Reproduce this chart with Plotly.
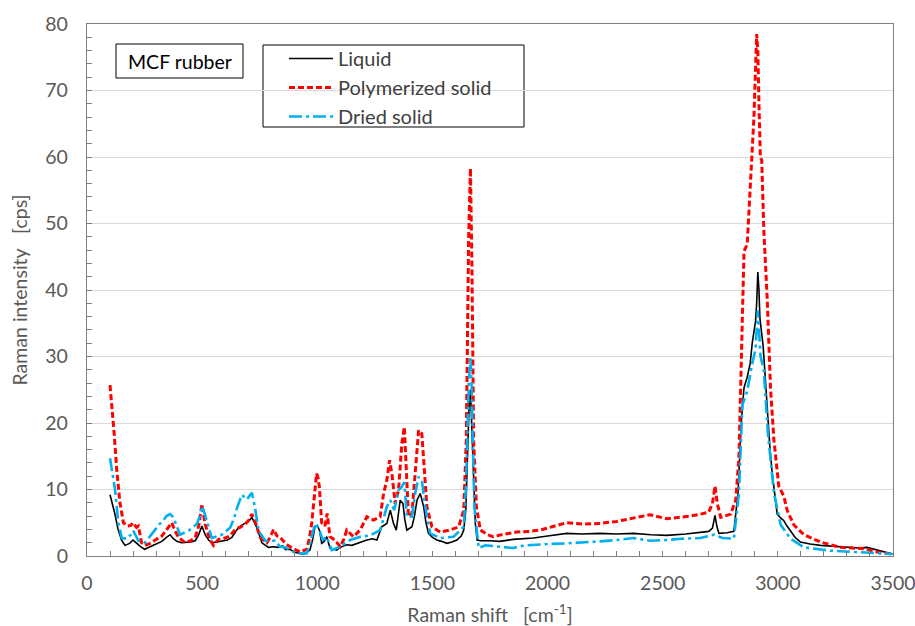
import plotly.graph_objects as go

# ---- data ----
LIQ_X = [
    100, 110, 120, 135, 150, 165, 185, 200, 215, 230,
    250, 265, 281, 300, 325, 345, 361, 375, 390, 410,
    430, 450, 470, 485, 499, 513, 528, 542, 565, 586,
    610, 629, 645, 658, 680, 701, 716, 737, 750, 759,
    775, 788, 810, 832, 850, 861, 881, 900, 925, 945,
    968, 980, 990, 1000, 1010, 1019, 1030, 1041, 1055, 1070,
    1084, 1100, 1128, 1150, 1172, 1195, 1215, 1240, 1259, 1280,
    1302, 1317, 1331, 1343, 1352, 1360, 1372, 1380, 1389, 1400,
    1411, 1422, 1433, 1447, 1462, 1472, 1483, 1500, 1519, 1540,
    1563, 1585, 1606, 1625, 1636, 1645, 1650, 1655, 1660, 1665,
    1670, 1675, 1679, 1686, 1694, 1710, 1750, 1793, 1850, 1900,
    1939, 2000, 2083, 2150, 2228, 2300, 2373, 2450, 2518, 2600,
    2663, 2700, 2716, 2727, 2735, 2744, 2780, 2809, 2827, 2841,
    2853, 2867, 2880, 2889, 2903, 2908, 2913, 2918, 2922, 2936,
    2945, 2954, 2965, 2975, 2990, 2997, 3010, 3026, 3040, 3055,
    3075, 3098, 3140, 3185, 3250, 3300, 3350, 3387, 3440, 3498]
LIQ_Y = [
    9.2, 8.0, 6.5, 4.0, 2.4, 1.6, 1.9, 2.4, 1.9, 1.5,
    1.0, 1.2, 1.5, 1.8, 2.2, 2.8, 3.2, 2.6, 2.2, 2.0,
    2.0, 2.1, 2.3, 3.2, 4.5, 3.2, 2.4, 2.0, 2.1, 2.2,
    2.4, 2.8, 3.6, 4.3, 4.8, 5.2, 5.8, 4.3, 3.0, 2.0,
    1.6, 1.3, 1.4, 1.3, 1.5, 1.0, 1.0, 0.6, 0.4, 0.3,
    0.9, 2.5, 4.4, 4.6, 3.8, 1.9, 2.2, 2.9, 1.2, 1.0,
    0.9, 1.3, 1.7, 1.6, 1.9, 2.2, 2.4, 2.6, 2.4, 4.4,
    4.9, 6.9, 4.9, 3.9, 6.0, 8.4, 7.9, 5.5, 3.9, 4.2,
    4.4, 6.0, 8.4, 9.4, 7.4, 5.0, 3.4, 2.8, 2.4, 2.2,
    1.9, 2.1, 2.4, 3.0, 3.9, 7.0, 12.4, 18.0, 23.4, 25.0,
    20.0, 14.0, 9.9, 5.0, 2.4, 2.3, 2.3, 2.2, 2.5, 2.6,
    2.7, 3.0, 3.4, 3.3, 3.4, 3.3, 3.4, 3.2, 3.1, 3.3,
    3.6, 3.7, 4.2, 6.1, 4.5, 3.4, 3.5, 3.7, 9.5, 20.0,
    25.3, 26.9, 29.0, 32.1, 35.3, 38.0, 42.7, 40.0, 35.8, 31.6,
    27.0, 21.6, 16.5, 12.6, 8.0, 6.3, 5.8, 5.3, 4.5, 3.7,
    2.8, 2.1, 1.8, 1.6, 1.4, 1.3, 1.2, 1.3, 0.8, 0.3]

POLY_X = [
    100, 107, 119, 129, 143, 158, 175, 190, 200, 215,
    223, 237, 252, 281, 300, 325, 350, 368, 382, 397,
    426, 450, 470, 485, 499, 513, 530, 549, 571, 600,
    620, 644, 665, 687, 705, 716, 730, 745, 752, 770,
    781, 795, 810, 825, 838, 846, 865, 881, 900, 925,
    954, 965, 976, 990, 997, 1003, 1009, 1019, 1033, 1043,
    1055, 1077, 1099, 1115, 1128, 1157, 1186, 1215, 1244, 1273,
    1288, 1302, 1314, 1324, 1338, 1353, 1367, 1378, 1386, 1396,
    1411, 1425, 1440, 1454, 1465, 1476, 1498, 1534, 1577, 1614,
    1636, 1647, 1652, 1657, 1665, 1668, 1672, 1676, 1679, 1691,
    1708, 1740, 1764, 1800, 1866, 1920, 1968, 2020, 2083, 2150,
    2228, 2300, 2373, 2445, 2518, 2578, 2620, 2665, 2700, 2716,
    2727, 2737, 2752, 2795, 2817, 2831, 2843, 2853, 2867, 2882,
    2896, 2908, 2913, 2918, 2924, 2930, 2939, 2954, 2968, 2983,
    3004, 3026, 3040, 3069, 3113, 3185, 3271, 3373, 3445, 3498]
POLY_Y = [
    25.7, 23.0, 18.0, 13.0, 8.0, 5.0, 4.5, 4.6, 5.0, 4.3,
    4.5, 2.0, 1.6, 2.0, 2.5, 3.0, 4.2, 5.0, 3.8, 2.8,
    2.0, 2.3, 2.8, 4.5, 7.8, 4.8, 2.8, 1.6, 2.5, 2.7,
    3.0, 4.0, 4.3, 4.8, 5.5, 6.3, 5.2, 3.5, 2.8, 2.3,
    2.0, 2.8, 4.0, 3.0, 2.9, 2.5, 1.8, 1.4, 1.0, 0.6,
    1.0, 2.5, 5.0, 9.9, 12.4, 11.8, 10.4, 5.0, 4.5, 6.4,
    2.9, 2.4, 1.4, 2.5, 3.9, 2.9, 3.9, 5.9, 5.4, 5.9,
    9.4, 11.4, 14.4, 12.4, 7.9, 9.9, 16.9, 19.4, 12.4, 5.9,
    6.4, 12.4, 18.9, 18.4, 12.4, 7.4, 4.4, 3.6, 3.9, 4.4,
    6.9, 17.4, 32.0, 47.5, 58.3, 52.0, 42.5, 28.0, 17.4, 7.4,
    3.9, 3.2, 2.9, 3.2, 3.6, 3.7, 3.9, 4.4, 5.0, 4.8,
    4.9, 5.2, 5.7, 6.2, 5.6, 5.8, 6.0, 6.3, 6.6, 7.9,
    10.5, 7.9, 5.8, 6.3, 8.4, 14.8, 33.2, 45.8, 46.9, 56.9,
    65.9, 78.5, 76.0, 68.0, 60.0, 59.5, 49.0, 38.5, 25.3, 17.4,
    10.5, 9.0, 6.9, 4.7, 3.2, 2.1, 1.3, 1.1, 0.5, 0.3]

DRY_X = [
    100, 107, 115, 122, 136, 151, 172, 190, 201, 223,
    252, 275, 295, 315, 331, 345, 361, 375, 390, 404,
    441, 477, 490, 499, 510, 520, 542, 586, 622, 640,
    651, 665, 672, 685, 694, 705, 716, 730, 745, 774,
    817, 838, 861, 910, 954, 970, 983, 994, 1009, 1024,
    1041, 1063, 1099, 1143, 1186, 1230, 1273, 1302, 1317, 1334,
    1353, 1367, 1378, 1389, 1411, 1425, 1440, 1454, 1469, 1490,
    1534, 1592, 1636, 1645, 1650, 1658, 1665, 1670, 1675, 1682,
    1701, 1730, 1793, 1850, 1900, 1939, 2000, 2083, 2150, 2228,
    2300, 2373, 2445, 2518, 2578, 2663, 2723, 2760, 2809, 2831,
    2846, 2867, 2889, 2903, 2913, 2925, 2939, 2957, 2983, 3012,
    3055, 3113, 3228, 3373, 3498]
DRY_Y = [
    14.7, 13.0, 11.0, 9.9, 5.0, 2.7, 2.6, 3.2, 3.8, 2.3,
    2.0, 3.0, 4.0, 4.8, 5.3, 6.0, 6.3, 5.8, 4.5, 3.2,
    3.8, 4.8, 6.0, 7.5, 6.5, 5.3, 2.7, 3.2, 4.3, 5.8,
    7.2, 8.5, 9.2, 8.8, 8.5, 9.0, 9.5, 7.2, 3.8, 2.3,
    2.3, 1.4, 1.3, 0.4, 0.4, 2.0, 3.9, 4.9, 3.9, 2.4,
    2.9, 0.9, 1.4, 2.4, 2.9, 3.1, 3.9, 7.4, 8.4, 6.9,
    9.9, 10.4, 11.1, 5.9, 5.9, 9.4, 11.9, 11.4, 7.4, 3.4,
    2.7, 2.9, 4.4, 10.0, 17.4, 26.0, 30.0, 26.0, 18.0, 7.4,
    1.2, 1.6, 1.4, 1.2, 1.6, 1.7, 1.8, 1.9, 2.0, 2.2,
    2.4, 2.7, 2.3, 2.4, 2.6, 2.7, 3.2, 2.7, 2.6, 9.5,
    22.7, 24.8, 29.0, 31.1, 36.9, 30.0, 27.9, 18.4, 9.5, 4.7,
    2.6, 1.3, 0.8, 0.5, 0.3]

SERIES_NAMES = ["Liquid", "Polymerized solid", "Dried solid"]
X_TICKS = [0, 500, 1000, 1500, 2000, 2500, 3000, 3500]
Y_TICKS = [0, 10, 20, 30, 40, 50, 60, 70, 80]

FONT = "Lato, 'Open Sans', sans-serif"
GREY = "#595959"
FS = 19.5

fig = go.Figure()
fig.add_trace(go.Scatter(x=LIQ_X, y=LIQ_Y, mode="lines", name=SERIES_NAMES[0],
                         line=dict(color="black", width=1.6)))
fig.add_trace(go.Scatter(x=POLY_X, y=POLY_Y, mode="lines", name=SERIES_NAMES[1],
                         line=dict(color="#FF0000", width=3, dash="6px,3px")))
fig.add_trace(go.Scatter(x=DRY_X, y=DRY_Y, mode="lines", name=SERIES_NAMES[2],
                         line=dict(color="#00B0F0", width=2.6, dash="13px,4px,3px,4px")))

# page body margin is removed below, so figure pixels == page pixels
W, H = 915, 626
L, R, T, B = 87, 893, 24, 556


def px(xp):
    return (xp - L) / (R - L)


def py(yp):
    return (B - yp) / (B - T)


fig.update_layout(
    width=W, height=H,
    margin=dict(l=L, r=W - R, t=T, b=H - B, autoexpand=False),
    paper_bgcolor="white", plot_bgcolor="white",
    font=dict(family=FONT, size=FS, color=GREY),
    showlegend=True,
    legend=dict(x=px(284), y=py(39), xanchor="left", yanchor="top",
                bgcolor="rgba(0,0,0,0)", borderwidth=0,
                font=dict(family=FONT, size=20, color="#404040"),
                itemwidth=44, tracegroupgap=0),
    shapes=[
        dict(type="rect", xref="paper", yref="paper",
             x0=px(263), x1=px(524), y0=py(127), y1=py(45),
             line=dict(color="black", width=1), fillcolor="white", layer="below"),
        dict(type="rect", xref="paper", yref="paper",
             x0=px(116), x1=px(243), y0=py(78), y1=py(44),
             line=dict(color="black", width=1), fillcolor="white", layer="below"),
    ],
    annotations=[
        dict(text="MCF rubber", xref="paper", yref="paper",
             x=px(179.5), y=py(61), xanchor="center", yanchor="middle",
             showarrow=False, font=dict(family=FONT, size=FS, color="black")),
    ],
)

fig.update_xaxes(
    range=[0, 3500], tickvals=X_TICKS, ticks="inside", ticklen=5,
    tickcolor="#808080", showgrid=False, zeroline=False, automargin=False,
    showline=True, linecolor="#808080", linewidth=1.3, mirror=True,
    minor=dict(dtick=100, ticks="inside", ticklen=5, tickcolor="#808080", showgrid=False),
    tickfont=dict(family=FONT, size=FS, color=GREY), ticklabelstandoff=9,
    ticklabeloverflow="allow",
    title=dict(text="Raman shift   [cm<sup>-1</sup>]", standoff=20,
               font=dict(family=FONT, size=FS, color=GREY)),
)
fig.update_yaxes(
    range=[0, 80], tickvals=Y_TICKS, ticks="inside", ticklen=5,
    tickcolor="#808080", showgrid=True, gridcolor="#D9D9D9", gridwidth=1,
    zeroline=False, showline=True, linecolor="#808080", linewidth=1.3, mirror=True,
    automargin=False, ticklabeloverflow="allow",
    minor=dict(dtick=2, ticks="inside", ticklen=5, tickcolor="#808080", showgrid=False),
    tickfont=dict(family=FONT, size=FS, color=GREY), ticklabelstandoff=14,
    title=dict(text="Raman intensity   [cps]", standoff=12,
               font=dict(family=FONT, size=FS, color=GREY)),
)

fig.write_html(
    "out.html",
    config={"displayModeBar": False},
    post_script="document.body.style.margin='0px';document.body.style.overflow='hidden';",
)
